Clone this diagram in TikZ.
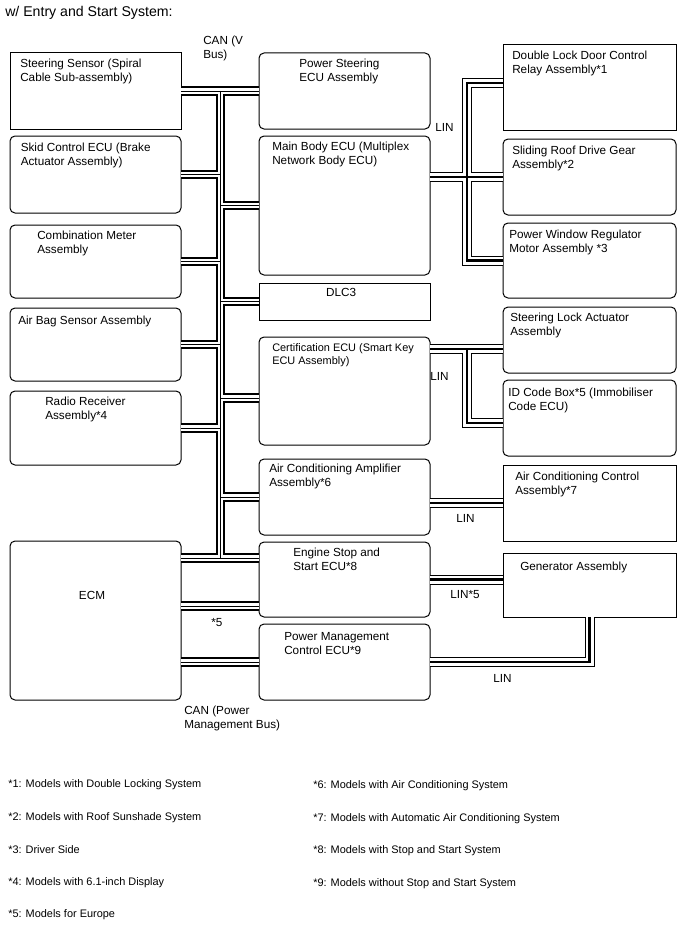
\documentclass[tikz,border=0pt]{standalone}
\usepackage{fontspec}
\setmainfont{Liberation Sans}
\usetikzlibrary{positioning}

\begin{document}
\begin{tikzpicture}[x=0.75pt, y=-0.75pt, node distance=5.25pt,
	ecu/.style={draw, rounded corners=3.75pt, line width=0.75pt, inner sep=0pt, outer sep=0pt},
	unit/.style={draw, line width=0.75pt, inner sep=0pt, outer sep=0pt},
	txt/.style={inner sep=0pt, align=left, font=\fontsize{8.8}{10.5}\selectfont},
	note/.style={inner sep=0pt, anchor=west, font=\fontsize{8.2}{9.8}\selectfont},
	can/.style={line width=7pt, postaction={draw=white, line width=4pt}, postaction={draw=black, line width=0.6pt}},
	lin/.style={line width=7.5pt, postaction={draw=white, line width=6pt}, postaction={draw=black, line width=1.6pt}}]
	\useasboundingbox (0,0) rectangle (688,949);
	
	\node[inner sep=0pt, anchor=west, font=\fontsize{10.6}{12}\selectfont] (title) at (5,13) {w/ Entry and Start System:};
	
	% left column
	\node[unit, minimum width=128.25pt, minimum height=57pt, anchor=north west] (steer) at (10,53) {};
	\node[ecu, minimum width=128.25pt, minimum height=57.75pt, below=5.25pt of steer] (skid) {};
	\node[ecu, minimum width=128.25pt, minimum height=54.75pt, below=9pt of skid] (comb) {};
	\node[ecu, minimum width=128.25pt, minimum height=54.75pt, below=7.5pt of comb] (airbag) {};
	\node[ecu, minimum width=128.25pt, minimum height=55.5pt, below=7.5pt of airbag] (radio) {};
	\node[ecu, minimum width=128.25pt, minimum height=119.25pt, below=57pt of radio] (ecm) {};
	
	% middle column
	\node[ecu, minimum width=128.25pt, minimum height=57pt, anchor=north west] (pwrst) at (259,53) {};
	\node[ecu, minimum width=128.25pt, minimum height=104.25pt, below=5.25pt of pwrst] (mainbody) {};
	\node[unit, minimum width=128.25pt, minimum height=27.75pt, below=6pt of mainbody] (dlc) {};
	\node[ecu, minimum width=128.25pt, minimum height=81pt, below=12.75pt of dlc] (cert) {};
	\node[ecu, minimum width=128.25pt, minimum height=57pt, below=10.5pt of cert] (acamp) {};
	\node[ecu, minimum width=128.25pt, minimum height=56.25pt, below=5.25pt of acamp] (engine) {};
	\node[ecu, minimum width=128.25pt, minimum height=57pt, below=5.25pt of engine] (pm) {};
	
	% right column
	\node[unit, minimum width=129.75pt, minimum height=63.75pt, anchor=north west] (dlock) at (503,45) {};
	\node[ecu, minimum width=129.75pt, minimum height=57pt, below=6.75pt of dlock] (sliding) {};
	\node[ecu, minimum width=129.75pt, minimum height=56.25pt, below=6pt of sliding] (pwin) {};
	\node[ecu, minimum width=129.75pt, minimum height=49.5pt, below=6.75pt of pwin] (steerlock) {};
	\node[ecu, minimum width=129.75pt, minimum height=57pt, below=5.25pt of steerlock] (idcode) {};
	\node[unit, minimum width=129.75pt, minimum height=57pt, below=6.75pt of idcode] (acctrl) {};
	\node[unit, minimum width=129.75pt, minimum height=48pt, below=9pt of acctrl] (gen) {};
	
	% box texts
	\node[txt, below right=4.35pt and 7.5pt of steer.north west] (steer-t) {Steering Sensor (Spiral\\Cable Sub-assembly)};
	\node[txt, below right=5.1pt and 7.9pt of skid.north west] (skid-t) {Skid Control ECU (Brake\\Actuator Assembly)};
	\node[txt, below right=4.35pt and 20.25pt of comb.north west] (comb-t) {Combination Meter\\Assembly};
	\node[txt, below right=5.85pt and 6pt of airbag.north west] (airbag-t) {Air Bag Sensor Assembly};
	\node[txt, below right=4.35pt and 26.25pt of radio.north west] (radio-t) {Radio Receiver\\Assembly*4};
	\node[txt, below=40.5pt of ecm.north, anchor=center, xshift=-2.6pt] (ecm-t) {ECM};
	
	\node[txt, below right=4.35pt and 30pt of pwrst.north west] (pwrst-t) {Power Steering\\ECU Assembly};
	\node[txt, below right=4.35pt and 9.75pt of mainbody.north west] (mainbody-t) {Main Body ECU (Multiplex\\Network Body ECU)};
	\node[txt, below=4pt of dlc.north, xshift=-2.6pt] (dlc-t) {DLC3};
	\node[txt, font=\fontsize{8.2}{9.75}\selectfont, below right=4.6pt and 9.75pt of cert.north west] (cert-t) {Certification ECU (Smart Key\\ECU Assembly)};
	\node[txt, below right=3.6pt and 7.5pt of acamp.north west] (acamp-t) {Air Conditioning Amplifier\\Assembly*6};
	\node[txt, below right=4.35pt and 25.5pt of engine.north west] (engine-t) {Engine Stop and\\Start ECU*8};
	\node[txt, below right=5.85pt and 18.75pt of pm.north west] (pm-t) {Power Management\\Control ECU*9};
	
	\node[txt, below right=4.35pt and 6.75pt of dlock.north west] (dlock-t) {Double Lock Door Control\\Relay Assembly*1};
	\node[txt, below right=5.1pt and 6.75pt of sliding.north west] (sliding-t) {Sliding Roof Drive Gear\\Assembly*2};
	\node[txt, below right=5.1pt and 4.5pt of pwin.north west] (pwin-t) {Power Window Regulator\\Motor Assembly *3};
	\node[txt, below right=4.35pt and 5.25pt of steerlock.north west] (steerlock-t) {Steering Lock Actuator\\Assembly};
	\node[txt, below right=5.85pt and 3.75pt of idcode.north west] (idcode-t) {ID Code Box*5 (Immobiliser\\Code ECU)};
	\node[txt, below right=5.1pt and 9pt of acctrl.north west] (acctrl-t) {Air Conditioning Control\\Assembly*7};
	\node[txt, below right=6.6pt and 12.75pt of gen.north west] (gen-t) {Generator Assembly};
	
	% bus points
	\coordinate (canV) at (220.5,0);
	\coordinate (canlow) at (0,558);
	\coordinate (can5) at (0,606);
	\coordinate (linA) at (467,0);
	\coordinate (certcan) at ([yshift=-5.25pt]cert.west);
	\coordinate (dlocklin) at ([yshift=3.4pt]dlock.west);
	\coordinate (slocklin) at ([yshift=-6.75pt]steerlock.west);
	\coordinate (idlin) at ([yshift=-3.75pt]idcode.west);
	
	% CAN (V Bus)
	\draw[can] (steer.east) -- (pwrst.west)
		(canV |- steer.east) -- (canV |- canlow)
		(skid.east) -- (skid.east -| canV)
		(comb.east) -- (comb.east -| canV)
		(airbag.east) -- (airbag.east -| canV)
		(radio.east) -- (radio.east -| canV)
		(mainbody.west) -- (mainbody.west -| canV)
		(dlc.west) -- (dlc.west -| canV)
		(certcan) -- (certcan -| canV)
		(acamp.west) -- (acamp.west -| canV)
		(ecm.east |- canlow) -- (engine.west |- canlow);
	\draw[can] (ecm.east |- can5) -- (engine.west |- can5);
	\draw[can] (ecm.east |- pm.west) -- (pm.west);
	
	% LIN
	\draw[lin] (mainbody.east |- sliding.west) -- (sliding.west)
		(dlocklin) -| (linA |- pwin.west) -- (pwin.west);
	\draw[lin] (cert.east |- slocklin) -- (slocklin)
		(linA |- slocklin) |- (idlin);
	\draw[lin] (acamp.east |- acctrl.west) -- (acctrl.west);
	\draw[lin] (engine.east) -- (engine.east -| gen.west);
	\draw[lin] (gen.south) |- (pm.east);
	
	% bus labels
	\node[txt, anchor=north west] (canv-l) at (203,36) {CAN (V\\Bus)};
	\node[txt, anchor=west] (lin1-l) at (435,127) {LIN};
	\node[txt, anchor=west] (lin2-l) at (430,376) {LIN};
	\node[txt, anchor=west] (lin3-l) at (456,518) {LIN};
	\node[txt, anchor=west] (lin4-l) at (450,595) {LIN*5};
	\node[txt, anchor=west] (lin5-l) at (493,678) {LIN};
	\node[txt, anchor=west] (can5-l) at (211,623) {*5};
	\node[txt, anchor=north west] (canpm-l) at (184,706) {CAN (Power\\Management Bus)};
	
	% notes
	\node[note] (fn1) at (8,785) {*1: Models with Double Locking System};
	\node[note, below=24.3pt of fn1.west, anchor=west] (fn2) {*2: Models with Roof Sunshade System};
	\node[note, below=24.3pt of fn2.west, anchor=west] (fn3) {*3: Driver Side};
	\node[note, below=24.3pt of fn3.west, anchor=west] (fn4) {*4: Models with 6.1-inch Display};
	\node[note, below=24.3pt of fn4.west, anchor=west] (fn5) {*5: Models for Europe};
	\node[note] (fn6) at (313,786) {*6: Models with Air Conditioning System};
	\node[note, below=24.3pt of fn6.west, anchor=west] (fn7) {*7: Models with Automatic Air Conditioning System};
	\node[note, below=24.3pt of fn7.west, anchor=west] (fn8) {*8: Models with Stop and Start System};
	\node[note, below=24.3pt of fn8.west, anchor=west] (fn9) {*9: Models without Stop and Start System};
\end{tikzpicture}
\end{document}
